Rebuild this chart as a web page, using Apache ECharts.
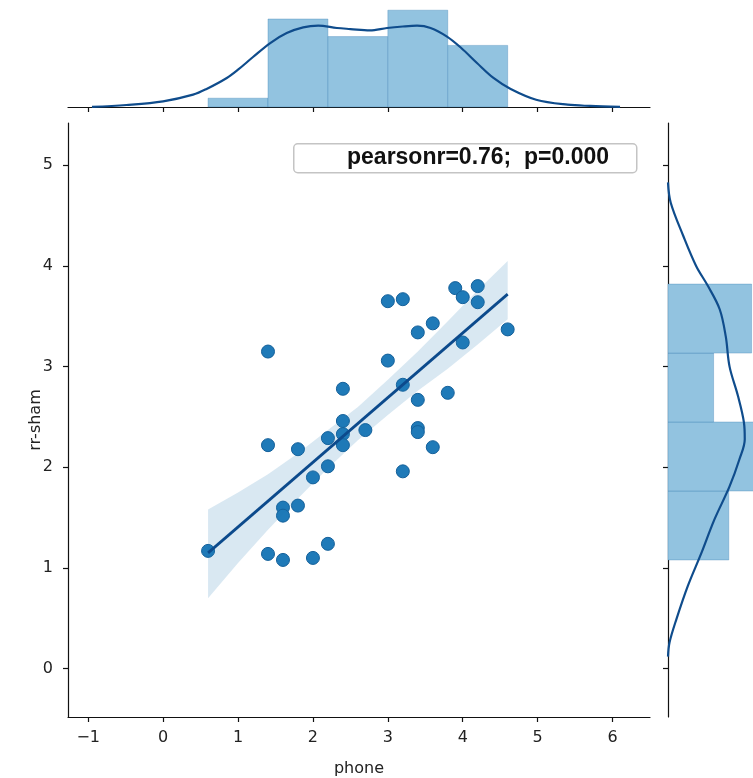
<!DOCTYPE html>
<html>
<head>
<meta charset="utf-8">
<script src="https://cdn.jsdelivr.net/npm/echarts@6/dist/echarts.min.js"></script>
<style>html,body{margin:0;padding:0;background:#fff;}#c{width:753px;height:778px;}</style>
</head>
<body>
<div id="c"></div>
<script>
// ---- data ----
const xTicks = [-1, 0, 1, 2, 3, 4, 5, 6];
const yTicks = [0, 1, 2, 3, 4, 5];

const phone  = [0.6, 1.4, 1.4, 1.4, 1.6, 1.6, 1.6, 1.8, 1.8, 2.0, 2.0, 2.2, 2.2, 2.2, 2.4, 2.4, 2.4, 2.4, 2.7,
                3.0, 3.0, 3.2, 3.2, 3.2, 3.4, 3.4, 3.4, 3.4, 3.6, 3.6, 3.8, 3.9, 4.0, 4.0, 4.2, 4.2, 4.6];
const rrSham = [1.17, 3.15, 2.22, 1.14, 1.60, 1.52, 1.08, 2.18, 1.62, 1.90, 1.10, 2.29, 2.01, 1.24, 2.78, 2.46, 2.33, 2.22, 2.37,
                3.65, 3.06, 3.67, 2.82, 1.96, 3.34, 2.67, 2.39, 2.35, 3.43, 2.20, 2.74, 3.78, 3.69, 3.24, 3.80, 3.64, 3.37];

// marginal histograms (bin edges + counts)
const xBinEdges = [0.6, 1.4, 2.2, 3.0, 3.8, 4.6];
const xBinCounts = [1, 10, 8, 11, 7];
const yBinEdges = [1.08, 1.765, 2.45, 3.135, 3.82];
const yBinCounts = [8, 12, 6, 11];

// marginal KDE curves (in count units)
const topKdeX = [-0.95, -0.49, 0, 0.4, 0.58, 0.85, 1.0, 1.2, 1.43, 1.65, 1.87, 2.07, 2.32, 2.5, 2.76, 2.99, 3.2, 3.39, 3.57, 3.79, 3.98, 4.19, 4.41, 4.64, 4.98, 5.4, 5.7, 6.1];
const topKdeY = [0.02, 0.23, 0.64, 1.4, 2.05, 3.3, 4.24, 5.68, 7.27, 8.4, 9.05, 9.24, 8.98, 8.86, 8.7, 8.98, 9.15, 9.24, 8.98, 8.0, 6.7, 5.0, 3.3, 2.05, 0.83, 0.26, 0.12, 0.02];
const rightKdeV = [4.83, 4.63, 4.30, 4.0, 3.80, 3.57, 3.30, 3.0, 2.71, 2.44, 2.28, 2.08, 1.81, 1.48, 1.15, 0.82, 0.49, 0.26, 0.12];
const rightKdeH = [0, 0.35, 2.0, 3.7, 5.26, 6.8, 7.6, 8.1, 9.2, 10.0, 10.1, 9.4, 8.1, 6.1, 4.4, 2.6, 1.1, 0.2, 0];

// regression line and confidence band
const regX = [0.6, 4.6];
const regY = [1.15, 3.72];
const bandX     = [0.6, 1.0, 1.4, 1.8, 2.2, 2.6, 3.0, 3.4, 3.8, 4.2, 4.6];
const bandUpper = [1.58, 1.75, 1.93, 2.14, 2.37, 2.60, 2.87, 3.15, 3.45, 3.76, 4.05];
const bandLower = [0.70, 1.05, 1.38, 1.69, 1.99, 2.27, 2.52, 2.76, 2.98, 3.22, 3.47];

const statText = 'pearsonr=0.76;  p=0.000';
const xName = 'phone';
const yName = 'rr-sham';

// ---- chart ----
const chart = echarts.init(document.getElementById('c'), null, {renderer: 'canvas'});
const FONT = 'DejaVu Sans';
const axisColor = '#111';
const XMIN = -1.27, XMAX = 6.5, YMIN = -0.48, YMAX = 5.42;
const minus = v => String(v).replace('-', '\u2212');

const histColor = '#92c3e0';
const kdeColor = '#0f4c8c';

function histItem(edges, counts) {
  return counts.map((c, i) => [edges[i], edges[i + 1], c]);
}

const option = {
  animation: false,
  backgroundColor: '#fff',
  grid: [
    {left: 68, top: 123, width: 582, height: 594, outerBoundsMode: 'none', containLabel: false},
    {left: 68, top: 7, width: 582, height: 100, outerBoundsMode: 'none', containLabel: false},
    {left: 668, top: 123, width: 85, height: 594, outerBoundsMode: 'none', containLabel: false}
  ],
  xAxis: [
    {
      gridIndex: 0, type: 'value', min: XMIN, max: XMAX,
      axisLine: {onZero: false, lineStyle: {color: axisColor, width: 1.2}},
      axisTick: {customValues: xTicks, length: 5, lineStyle: {color: axisColor, width: 1.2}},
      axisLabel: {customValues: xTicks, formatter: minus, fontFamily: FONT, fontSize: 16, color: '#222', margin: 13},
      splitLine: {show: false},
      name: xName, nameLocation: 'middle', nameGap: 44, nameMoveOverlap: false,
      nameTextStyle: {fontFamily: FONT, fontSize: 16, color: '#222'}
    },
    {
      gridIndex: 1, type: 'value', min: XMIN, max: XMAX,
      axisLine: {onZero: false, lineStyle: {color: axisColor, width: 1.2}},
      axisTick: {customValues: xTicks, length: 5, lineStyle: {color: axisColor, width: 1.2}},
      axisLabel: {show: false},
      splitLine: {show: false}
    },
    {gridIndex: 2, type: 'value', min: 0, max: 85 / 7.6, show: false, splitLine: {show: false}}
  ],
  yAxis: [
    {
      gridIndex: 0, type: 'value', min: YMIN, max: YMAX,
      axisLine: {show: true, onZero: false, lineStyle: {color: axisColor, width: 1.2}},
      axisTick: {show: true, customValues: yTicks, length: 5, lineStyle: {color: axisColor, width: 1.2}},
      axisLabel: {customValues: yTicks, fontFamily: FONT, fontSize: 16, color: '#222', margin: 15},
      splitLine: {show: false},
      name: yName, nameLocation: 'middle', nameGap: 24, nameMoveOverlap: false,
      nameTextStyle: {fontFamily: FONT, fontSize: 16, color: '#222'}
    },
    {gridIndex: 1, type: 'value', min: 0, max: 100 / 8.8, show: false, splitLine: {show: false}},
    {
      gridIndex: 2, type: 'value', min: YMIN, max: YMAX, position: 'left',
      axisLine: {show: true, onZero: false, lineStyle: {color: axisColor, width: 1.2}},
      axisTick: {show: true, customValues: yTicks, length: 5, lineStyle: {color: axisColor, width: 1.2}},
      axisLabel: {show: false},
      splitLine: {show: false}
    }
  ],
  series: [
    // top histogram
    {
      type: 'custom', xAxisIndex: 1, yAxisIndex: 1, z: 1,
      data: histItem(xBinEdges, xBinCounts),
      renderItem: (params, api) => {
        const p0 = api.coord([api.value(0), 0]);
        const p1 = api.coord([api.value(1), api.value(2)]);
        return {type: 'rect', shape: {x: p0[0], y: p1[1], width: p1[0] - p0[0], height: p0[1] - p1[1]},
          style: {fill: histColor, stroke: 'rgba(60,130,180,0.35)', lineWidth: 1}};
      }
    },
    // top KDE
    {
      type: 'line', xAxisIndex: 1, yAxisIndex: 1, z: 3, smooth: 0.35, showSymbol: false, symbol: 'none',
      data: topKdeX.map((x, i) => [x, topKdeY[i]]),
      lineStyle: {color: kdeColor, width: 2.2}
    },
    // right histogram
    {
      type: 'custom', xAxisIndex: 2, yAxisIndex: 2, z: 1,
      data: histItem(yBinEdges, yBinCounts),
      renderItem: (params, api) => {
        const p0 = api.coord([0, api.value(0)]);
        const p1 = api.coord([api.value(2), api.value(1)]);
        return {type: 'rect', shape: {x: p0[0], y: p1[1], width: p1[0] - p0[0], height: p0[1] - p1[1]},
          style: {fill: histColor, stroke: 'rgba(60,130,180,0.35)', lineWidth: 1}};
      }
    },
    // right KDE
    {
      type: 'line', xAxisIndex: 2, yAxisIndex: 2, z: 3, smooth: 0.35, showSymbol: false, symbol: 'none',
      data: rightKdeV.map((v, i) => [rightKdeH[i], v]),
      lineStyle: {color: kdeColor, width: 2.2}
    },
    // scatter
    {
      type: 'scatter', xAxisIndex: 0, yAxisIndex: 0, z: 2,
      symbolSize: 13,
      data: phone.map((x, i) => [x, rrSham[i]]),
      itemStyle: {color: '#1f7ab8', borderColor: '#14609a', borderWidth: 1, opacity: 1}
    },
    // confidence band
    {
      type: 'custom', xAxisIndex: 0, yAxisIndex: 0, z: 3,
      data: [0],
      renderItem: (params, api) => {
        const pts = [];
        for (let i = 0; i < bandX.length; i++) pts.push(api.coord([bandX[i], bandUpper[i]]));
        for (let i = bandX.length - 1; i >= 0; i--) pts.push(api.coord([bandX[i], bandLower[i]]));
        return {type: 'polygon', shape: {points: pts}, style: {fill: 'rgba(31,119,180,0.17)'}};
      }
    },
    // regression line
    {
      type: 'line', xAxisIndex: 0, yAxisIndex: 0, z: 4, showSymbol: false, symbol: 'none',
      data: regX.map((x, i) => [x, regY[i]]),
      lineStyle: {color: '#0c4a8c', width: 2.8}
    }
  ],
  graphic: [
    {
      type: 'rect', left: 293, top: 143, z: 10,
      shape: {width: 343, height: 29, r: 4},
      style: {fill: '#fff', stroke: '#c4c4c4', lineWidth: 1.5}
    },
    {
      type: 'text', left: 347, top: 146, z: 11,
      style: {text: statText, font: 'bold 23px "Liberation Sans", Arial, sans-serif', fill: '#111'}
    }
  ]
};
chart.setOption(option);
</script>
</body>
</html>
